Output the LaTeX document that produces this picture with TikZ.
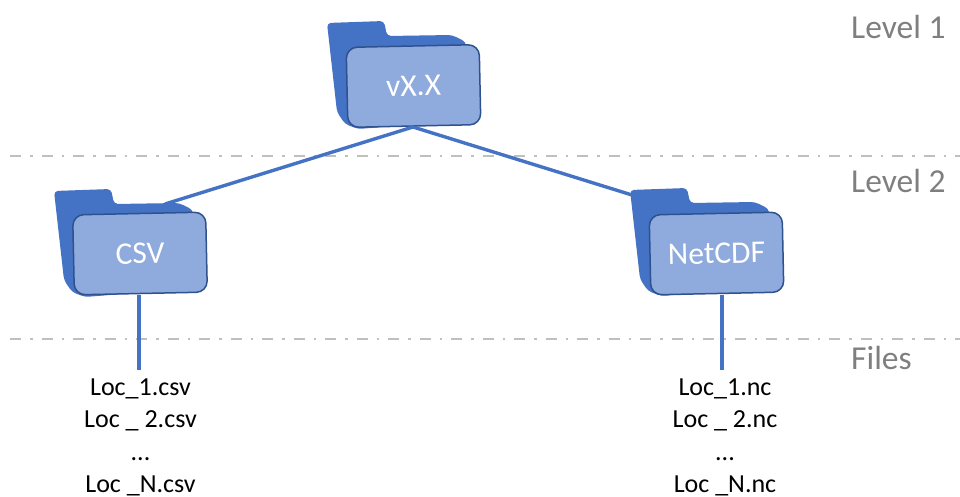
\documentclass[tikz,border=0pt]{standalone}
\usepackage{fontspec}
\setmainfont{Carlito}
\definecolor{fback}{HTML}{4472C4}
\definecolor{ffront}{HTML}{8FAADC}
\definecolor{fedge}{HTML}{2F528F}
\definecolor{sepc}{HTML}{BFBFBF}
\definecolor{lvl}{HTML}{7F7F7F}
\tikzset{
  sepline/.style={draw=sepc,line width=2.2pt,dash pattern=on 11pt off 9pt on 2.5pt off 9pt},
  link/.style={draw=fback,line width=3.4pt},
  folderfront/.style={draw=fedge,line width=1.5pt,fill=ffront,rounded corners=11pt,minimum width=133pt,minimum height=80pt,rotate=1.2,text=white,font=\fontsize{31.5}{33}\selectfont,inner sep=0pt},
  folderback/.style={fill=fback,rounded corners=4pt},
  levellabel/.style={text=lvl,font=\fontsize{33.5}{35}\selectfont,anchor=west,inner sep=0pt},
  filelist/.style={align=center,font=\fontsize{26}{32.3}\selectfont,inner sep=0pt,anchor=north}
}
\newcommand{\folderbackshape}[2]{%
  \fill[folderback,shift={(#1,#2)}] (327,23) -- (384,21) -- (387,36) -- (452,35) -- (466,42) -- (470,120) -- (358,129) -- (345,124) -- (337,112) -- cycle;}
\begin{document}
\begin{tikzpicture}[x=1pt,y=-1pt]
\useasboundingbox (0,0) rectangle (960,497);
\coordinate (sepAl) at (10,156); \coordinate (sepAr) at (960,156);
\coordinate (sepBl) at (10,339); \coordinate (sepBr) at (960,339);
\draw[sepline] (sepAl) -- (sepAr);
\draw[sepline] (sepBl) -- (sepBr);
% folders
\coordinate (csvback) at (165,204);
\coordinate (ncback) at (632,195);
\folderbackshape{0}{0}
\folderbackshape{-273}{168}
\folderbackshape{303}{167}
\node[folderfront] (top) at (413.5,86) {\raisebox{-3pt}{vX.X}};
\node[folderfront] (csv) at (140,253.5) {\raisebox{-2pt}{CSV}};
\node[folderfront] (nc) at (716.5,253.5) {\raisebox{-2pt}{NetCDF}};
% file lists
\node[filelist] (csvfiles) at (140.5,378.5) {Loc\_1.csv\\Loc \_ 2.csv\\...\\Loc \_N.csv};
\node[filelist] (ncfiles) at (725,378.5) {Loc\_1.nc\\Loc \_ 2.nc\\...\\Loc \_N.nc};
\coordinate (csvend) at (139,370);
\coordinate (ncend) at (722,370);
\coordinate (csvstart) at (139,295);
\coordinate (ncstart) at (722,295);
\coordinate (topb) at (413,127);
% connectors
\draw[link] (topb) -- (csvback);
\draw[link] (topb) -- (ncback);
\draw[link] (csvstart) -- (csvend);
\draw[link] (ncstart) -- (ncend);
% level labels
\node[levellabel] (l1) at (851,27) {Level 1};
\node[levellabel] (l2) at (851,181) {Level 2};
\node[levellabel] (l3) at (851,358) {Files};
\end{tikzpicture}
\end{document}
